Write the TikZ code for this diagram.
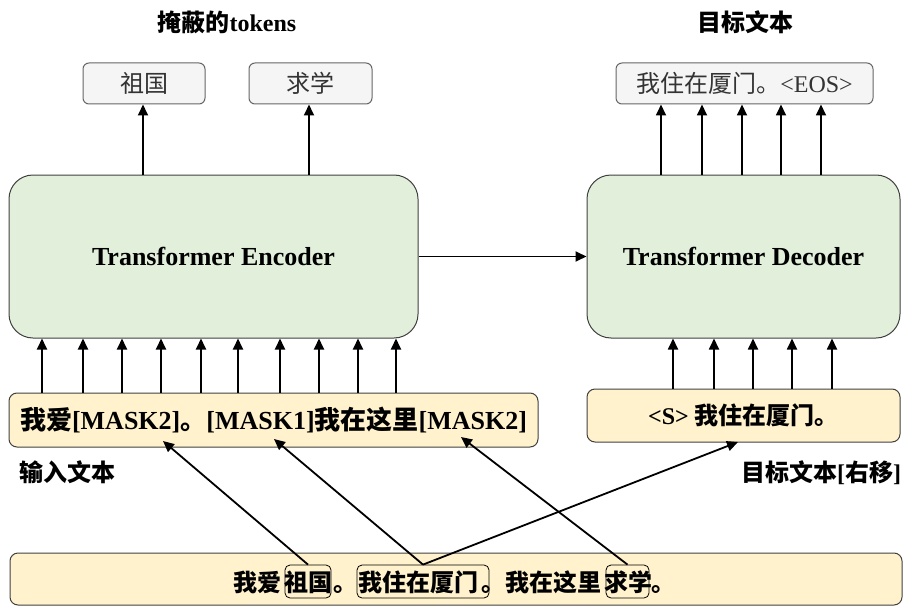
\documentclass[tikz,border=0pt]{standalone}
\usepackage{fontspec}
\setmainfont{Liberation Serif}
\newfontfamily\cjk{Noto Sans CJK SC}
\usetikzlibrary{arrows.meta,calc}
\definecolor{greenfill}{HTML}{E2EFDA}
\definecolor{yellowfill}{HTML}{FFF2CC}
\definecolor{grayfill}{HTML}{F5F5F5}
\definecolor{graystroke}{HTML}{666666}
\definecolor{darkstroke}{HTML}{404040}
\newcommand\zh[1]{{\cjk #1}}
\begin{document}
\begin{tikzpicture}[x=1pt,y=-1pt,
  arr/.style={line width=1.8pt, -{Triangle[length=11pt,width=10pt]}},
  modelbox/.style={draw=darkstroke, line width=1pt, fill=greenfill, rounded corners=24pt,
    minimum height=163pt, font=\fontsize{26}{30}\selectfont\bfseries},
  inbox/.style={draw=darkstroke, line width=1pt, fill=yellowfill, rounded corners=8pt},
  outbox/.style={draw=graystroke, line width=1pt, fill=grayfill, rounded corners=6pt,
    minimum height=41pt, text=black!80, font=\fontsize{24}{28}\selectfont},
  markbox/.style={draw=black, line width=0.8pt, rounded corners=5pt, minimum height=33pt, inner sep=0pt},
  ttl/.style={font=\fontsize{24}{28}\selectfont\bfseries, inner sep=0pt},
  piece/.style={font=\fontsize{24}{28}\selectfont\bfseries, inner sep=0pt, anchor=base west},
]
\useasboundingbox (0,0) rectangle (904,607);

% titles
\node[ttl] (t-mask) at (227,22) {\zh{掩蔽的}tokens};
\node[ttl] (t-tgt) at (745,22) {\zh{目标文本}};

% output boxes
\node[outbox, minimum width=122pt] (zg) at (144,83.5) {\zh{祖国}};
\node[outbox, minimum width=123pt] (qx) at (310.5,83.5) {\zh{求学}};
\node[outbox, minimum width=257pt] (out) at (744.5,83.5) {\zh{我住在厦门。}<EOS>};

% model boxes
\node[modelbox, minimum width=409pt] (enc) at (213.5,256.5) {Transformer Encoder};
\node[modelbox, minimum width=313pt] (dec) at (743.5,256.5) {Transformer Decoder};

% input boxes
\node[inbox, minimum width=529pt, minimum height=54pt, font=\fontsize{26}{30}\selectfont\bfseries] (inp) at (273.5,420)
  {\zh{我爱}[MASK2]\zh{。}[MASK1]\zh{我在这里}[MASK2]};
\node[inbox, minimum width=313pt, minimum height=53pt, font=\fontsize{24}{28}\selectfont\bfseries] (dinp) at (743.5,415.5)
  {<S> \zh{我住在厦门。}};

\node[ttl] (l-in) at (67,472) {\zh{输入文本}};
\node[ttl] (l-tgt) at (821,473) {\zh{目标文本}[\zh{右移}]};

% bottom sentence
\node[inbox, minimum width=892pt, minimum height=52pt] (bot) at (456,579) {};
\node[markbox, minimum width=46pt] (bzg) at (308,581.5) {};
\node[markbox, minimum width=132pt] (bzm) at (423,581.5) {};
\node[markbox, minimum width=43pt] (bqx) at (627.5,581.5) {};
\node[piece] (p1) at (233,591) {\zh{我爱}};
\node[piece] (p2) at (284,591) {\zh{祖国}};
\node[piece] (p3) at (333,591) {\zh{。}};
\node[piece] (p4) at (358,591) {\zh{我住在厦门}};
\node[piece] (p5) at (481,591) {\zh{。}};
\node[piece] (p6) at (505,591) {\zh{我在这里}};
\node[piece] (p7) at (604,591) {\zh{求学}};
\node[piece] (p8) at (651,591) {\zh{。}};

% arrow targets inside the input boxes
\coordinate (m2a) at (163,441);
\coordinate (m1) at (274,439);
\coordinate (m2b) at (461,437);
\coordinate (dt) at (738,442);

% connectors
\draw[arr] (bzg.north) -- (m2a);
\draw[arr] (bzm.north) -- (m1);
\draw[arr] (bzm.north) -- (dt);
\draw[arr] (bqx.north) -- (m2b);

\foreach \x in {42,83,122,161,201,238,280,319,358,396}
  \draw[arr] (inp.north -| \x,0) -- (enc.south -| \x,0);
\foreach \x in {673,714,753,792,832}
  \draw[arr] (dinp.north -| \x,0) -- (dec.south -| \x,0);
\foreach \x in {661,702,742,781,821}
  \draw[arr] (dec.north -| \x,0) -- (out.south -| \x,0);
\draw[arr] (enc.north -| 143,0) -- (zg.south -| 143,0);
\draw[arr] (enc.north -| 309,0) -- (qx.south -| 309,0);
\draw[arr] (enc.east) -- (dec.west);
\end{tikzpicture}
\end{document}
